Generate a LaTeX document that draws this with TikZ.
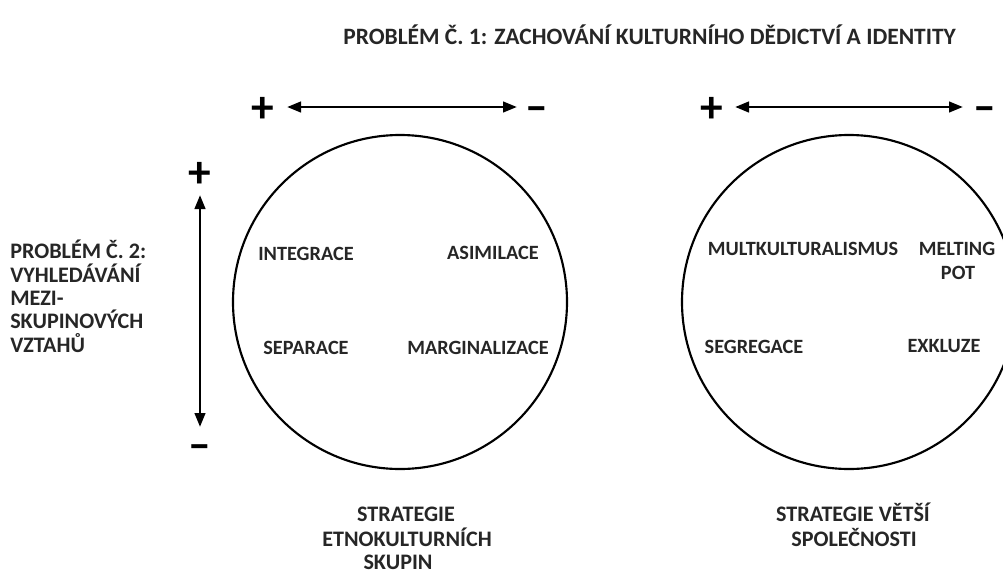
\documentclass[tikz,border=0pt]{standalone}
\usepackage{fontspec}
\setmainfont{Carlito}
\usetikzlibrary{arrows.meta}
\begin{document}
\begin{tikzpicture}[x=0.75pt,y=-0.75pt,
  lbl/.style={font=\bfseries\fontsize{15.2}{18}\selectfont, inner sep=0pt, anchor=base, text=black!85},
  big/.style={lbl, font=\bfseries\fontsize{16.6}{19}\selectfont},
  bigw/.style={big, anchor=base west},
  ttl/.style={lbl, anchor=base west, font=\bfseries\fontsize{17.6}{20}\selectfont},
  sign/.style={font=\bfseries\fontsize{34}{34}\selectfont, inner sep=0pt, anchor=base},
  axis/.style={line width=2.2pt, {Triangle[length=10.5pt,width=7.8pt]}-{Triangle[length=10.5pt,width=7.8pt]}},
  ring/.style={draw, line width=1.6pt, circle, minimum size=250.5pt, inner sep=0pt}]
\useasboundingbox (0,0) rectangle (1003,575);

% title
\node[ttl] (title) at (343,44) {PROBLÉM Č. 1: ZACHOVÁNÍ KULTURNÍHO DĚDICTVÍ A IDENTITY};

% left vertical label
\node[bigw] (p2a) at (10,258) {PROBLÉM Č. 2:};
\node[bigw] (p2b) at (10,282) {VYHLEDÁVÁNÍ};
\node[bigw] (p2c) at (10,305) {MEZI-};
\node[bigw] (p2d) at (10,328) {SKUPINOVÝCH};
\node[bigw] (p2e) at (10,352) {VZTAHŮ};

% circles
\node[ring] (c1) at (400,302) {};
\node[ring] (c2) at (849,302) {};

% horizontal axes
\coordinate (h1a) at (287,107);
\coordinate (h1b) at (517,107);
\draw[axis] (h1a) -- (h1b);
\node[sign] (h1p) at (263,122) {+};
\node[sign] (h1m) at (537,121) {–};

\coordinate (h2a) at (735,107);
\coordinate (h2b) at (963,107);
\draw[axis] (h2a) -- (h2b);
\node[sign] (h2p) at (712,122) {+};
\node[sign] (h2m) at (985,121) {–};

% vertical axis
\coordinate (va) at (200,195);
\coordinate (vb) at (200,427);
\draw[axis] (va) -- (vb);
\node[sign] (vp) at (200,187) {+};
\node[sign] (vm) at (200,459) {–};

% left circle labels
\node[lbl] (int) at (306,260) {INTEGRACE};
\node[lbl] (asi) at (493,259) {ASIMILACE};
\node[lbl] (sep) at (306,354) {SEPARACE};
\node[lbl] (mar) at (478,354) {MARGINALIZACE};

% right circle labels
\node[lbl] (mul) at (803,255) {MULTKULTURALISMUS};
\node[lbl] (mel) at (957,255) {MELTING};
\node[lbl] (pot) at (958,279) {POT};
\node[lbl] (seg) at (754,353) {SEGREGACE};
\node[lbl] (exk) at (944,352) {EXKLUZE};

% bottom labels
\node[big] (s1a) at (406,521) {STRATEGIE};
\node[big] (s1b) at (407,546) {ETNOKULTURNÍCH};
\node[big] (s1c) at (398,569) {SKUPIN};
\node[big] (s2a) at (853,521) {STRATEGIE VĚTŠÍ};
\node[big] (s2b) at (854,546) {SPOLEČNOSTI};
\end{tikzpicture}
\end{document}
